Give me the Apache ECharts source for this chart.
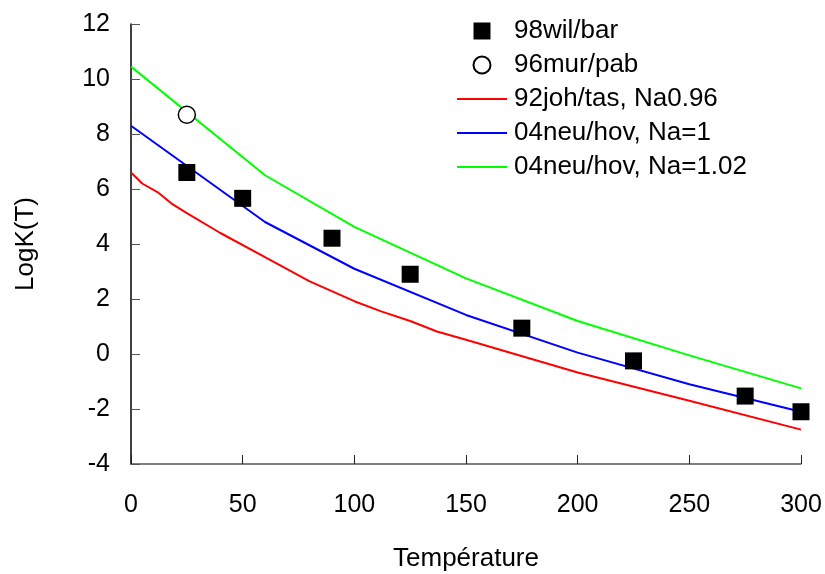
<!DOCTYPE html>
<html>
<head>
<meta charset="utf-8">
<script src="https://cdn.jsdelivr.net/npm/echarts@6/dist/echarts.min.js"></script>
<style>
  html, body { margin: 0; padding: 0; background: #fff; }
  #chart { width: 825px; height: 574px; }
</style>
</head>
<body>
<div id="chart"></div>
<script>
// Measured points
const wilT = [25, 50, 90, 125, 175, 225, 275, 300];
const wilLogK = [6.6, 5.66, 4.21, 2.9, 0.94, -0.25, -1.53, -2.1];
const murT = [25];
const murLogK = [8.7];

// Model curves
const johT = [0, 5, 12, 18, 25, 40, 60, 80, 100, 112, 125, 137, 150, 200, 250, 300];
const johLogK = [6.6, 6.2, 5.88, 5.48, 5.12, 4.4, 3.52, 2.64, 1.92, 1.55, 1.2, 0.82, 0.52, -0.67, -1.7, -2.75];
const neuT = [0, 60, 100, 150, 200, 250, 300];
const neu1LogK = [8.3, 4.8, 3.1, 1.42, 0.05, -1.1, -2.1];
const neu102LogK = [10.45, 6.5, 4.62, 2.75, 1.2, -0.05, -1.25];

const yTicks = { min: -4, max: 12, step: 2 };
const xTicks = { min: 0, max: 300, step: 50 };

const pairs = (xs, ys) => xs.map((x, i) => [x, ys[i]]);

const font = 'Liberation Sans, Arial, sans-serif';
const chart = echarts.init(document.getElementById('chart'), null, { renderer: 'canvas' });

// Legend entries for the curves show only the line sample, no marker
const lineLegend = (name) => ({ name, itemStyle: { opacity: 0 } });

chart.setOption({
  animation: false,
  backgroundColor: '#fff',
  textStyle: { fontFamily: font },
  grid: { left: 131, right: 24, top: 24, bottom: 110, containLabel: false, outerBoundsMode: 'none' },
  legend: {
    orient: 'vertical',
    left: 451,
    top: 13,
    itemWidth: 50,
    itemHeight: 17,
    itemGap: 8,
    symbolKeepAspect: true,
    textStyle: { fontFamily: font, fontSize: 26, color: '#000', padding: [0, 0, 0, 2] },
    data: [
      { name: '98wil/bar', icon: 'path://M0,0H10V10H0Z' },
      { name: '96mur/pab' },
      lineLegend('92joh/tas, Na0.96'),
      lineLegend('04neu/hov, Na=1'),
      lineLegend('04neu/hov, Na=1.02')
    ]
  },
  xAxis: {
    type: 'value',
    min: xTicks.min, max: xTicks.max, interval: xTicks.step,
    name: 'Température',
    nameLocation: 'middle',
    nameGap: 82,
    nameTextStyle: { fontFamily: font, fontSize: 26, color: '#000' },
    axisLine: { show: true, onZero: false, lineStyle: { color: '#555', width: 1.5 } },
    axisTick: { show: true, inside: true, length: 9, lineStyle: { color: '#222' } },
    axisLabel: { fontFamily: font, fontSize: 25, color: '#000', margin: 29 },
    splitLine: { show: false }
  },
  yAxis: {
    type: 'value',
    min: yTicks.min, max: yTicks.max, interval: yTicks.step,
    name: 'LogK(T)',
    nameLocation: 'middle',
    nameGap: 92,
    nameRotate: 90,
    nameTextStyle: { fontFamily: font, fontSize: 26, color: '#000' },
    axisLine: { show: true, onZero: false, lineStyle: { color: '#000', width: 1.5 } },
    axisTick: { show: true, inside: true, length: 9, lineStyle: { color: '#555' } },
    axisLabel: { fontFamily: font, fontSize: 25, color: '#000', margin: 21 },
    splitLine: { show: false }
  },
  series: [
    {
      name: '92joh/tas, Na0.96', type: 'line', data: pairs(johT, johLogK),
      symbol: 'none', lineStyle: { color: '#ff0000', width: 2 }, itemStyle: { color: '#ff0000' }, z: 2
    },
    {
      name: '04neu/hov, Na=1', type: 'line', data: pairs(neuT, neu1LogK),
      symbol: 'none', lineStyle: { color: '#0000ff', width: 2 }, itemStyle: { color: '#0000ff' }, z: 2
    },
    {
      name: '04neu/hov, Na=1.02', type: 'line', data: pairs(neuT, neu102LogK),
      symbol: 'none', lineStyle: { color: '#00ff00', width: 2 }, itemStyle: { color: '#00ff00' }, z: 2
    },
    {
      name: '98wil/bar', type: 'scatter', data: pairs(wilT, wilLogK),
      symbol: 'rect', symbolSize: 17,
      itemStyle: { color: '#000', opacity: 1 }, z: 3
    },
    {
      name: '96mur/pab', type: 'scatter', data: pairs(murT, murLogK),
      symbol: 'circle', symbolSize: 17,
      itemStyle: { color: '#fff', borderColor: '#000', borderWidth: 1.5, opacity: 1 }, z: 3
    }
  ]
});
</script>
</body>
</html>
